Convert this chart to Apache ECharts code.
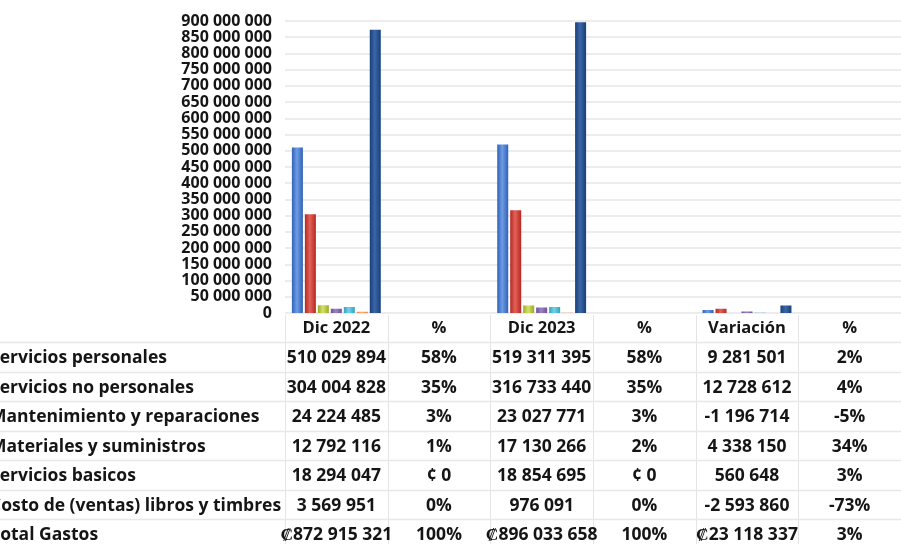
<!DOCTYPE html>
<html><head><meta charset="utf-8">
<script src="https://cdn.jsdelivr.net/npm/echarts@6/dist/echarts.min.js"></script>
<style>html,body{margin:0;padding:0;background:#fff}#c{width:901px;height:544px}</style>
</head><body><div id="c"></div>
<script>
// ---- data ----
const categories = ['Dic 2022', '%', 'Dic 2023', '%', 'Variación', '%'];
const rowNames = ['Servicios personales', 'Servicios no personales', 'Mantenimiento y reparaciones',
  'Materiales y suministros', 'Servicios basicos', 'Costo de (ventas) libros y timbres', 'Total Gastos'];
const dic2022 = [510029894, 304004828, 24224485, 12792116, 18294047, 3569951, 872915321];
const pct2022 = ['58%', '35%', '3%', '1%', '¢ 0', '0%', '100%'];
const dic2023 = [519311395, 316733440, 23027771, 17130266, 18854695, 976091, 896033658];
const pct2023 = ['58%', '35%', '3%', '2%', '¢ 0', '0%', '100%'];
const variacion = [9281501, 12728612, -1196714, 4338150, 560648, -2593860, 23118337];
const pctVar = ['2%', '4%', '-5%', '34%', '3%', '-73%', '3%'];
const yMax = 900000000;
const yStep = 50000000;

// ---- style ----
const FONT = '"Open Sans"';
const colors = [
  ['#2f62b8', '#6e9ce4'],
  ['#b5281f', '#e2625a'],
  ['#9aab25', '#d6e06a'],
  ['#6e519c', '#9c83c6'],
  ['#2fa4c2', '#78d0e6'],
  ['#e8843a', '#fbb47e'],
  ['#183f78', '#3b67a8']
];
function grad(c) {
  return new echarts.graphic.LinearGradient(0, 0, 1, 0, [
    { offset: 0, color: c[0] }, { offset: 0.45, color: c[1] }, { offset: 1, color: c[0] }
  ]);
}
function fmtNum(v) {
  const s = String(Math.abs(v)).replace(/\B(?=(\d{3})+(?!\d))/g, ' ');
  return (v < 0 ? '-' : '') + s;
}
function pctNum(t) { const m = /(-?\d+)%/.exec(t); return m ? Number(m[1]) / 100 : 0; }

const chart = echarts.init(document.getElementById('c'));
const series = rowNames.map((name, i) => ({
  name, type: 'bar', barWidth: 11, barGap: '18%', clip: true,
  itemStyle: { color: grad(colors[i]) },
  data: [dic2022[i], pctNum(pct2022[i]), dic2023[i], pctNum(pct2023[i]), variacion[i], pctNum(pctVar[i])]
}));

chart.setOption({
  animation: false,
  backgroundColor: '#fff',
  grid: { left: 285, right: -8, top: 21, bottom: 231 },
  xAxis: {
    type: 'category', data: categories,
    axisLine: { show: false }, axisTick: { show: false },
    axisLabel: { margin: 7, fontFamily: FONT, fontWeight: 'bold', fontSize: 16.5, color: '#151515' }
  },
  yAxis: {
    type: 'value', min: 0, max: yMax, interval: yStep,
    axisLine: { show: false }, axisTick: { show: false },
    axisLabel: { margin: 13, fontFamily: FONT, fontWeight: 'bold', fontSize: 16, color: '#151515',
      formatter: v => fmtNum(v) },
    splitLine: { lineStyle: { color: '#e6e6e6', width: 1.5 } }
  },
  series
});

// ---- data table under the chart ----
const g = [];
const rowY0 = 358.5, rowH = 29.5, lineY0 = 342;
const cx = categories.map((c, j) => chart.convertToPixel({ xAxisIndex: 0 }, j));
const half = (cx[1] - cx[0]) / 2;
for (let j = 0; j <= categories.length; j++) {
  const x = Math.round((j < categories.length ? cx[j] - half : cx[j - 1] + half)) + 0.5;
  g.push({ type: 'line', shape: { x1: x, y1: 315, x2: x, y2: 544 }, style: { stroke: '#e4e4e4', lineWidth: 1 }, silent: true });
}
for (let i = 0; i < rowNames.length; i++) {
  const y = Math.round(lineY0 + i * rowH) + 0.5;
  g.push({ type: 'line', shape: { x1: 0, y1: y, x2: 901, y2: y }, style: { stroke: '#e8e8e8', lineWidth: 1.5 }, silent: true });
}
const txt = (x, y, text, align) => ({
  type: 'text', x, y, silent: true,
  style: { text, fill: '#151515', font: 'bold 17.5px ' + FONT, align, verticalAlign: 'middle' }
});
rowNames.forEach((name, i) => {
  const y = rowY0 + i * rowH;
  const tot = i === rowNames.length - 1;
  const cells = [
    (tot ? '₡' : '') + fmtNum(dic2022[i]), pct2022[i],
    (tot ? '₡' : '') + fmtNum(dic2023[i]), pct2023[i],
    (tot ? '₡' : '') + fmtNum(variacion[i]), pctVar[i]
  ];
  g.push(txt(-10, y, name, 'left'));
  cells.forEach((t, j) => g.push(txt(cx[j], y, t, 'center')));
});
chart.setOption({ graphic: g });
</script></body></html>
